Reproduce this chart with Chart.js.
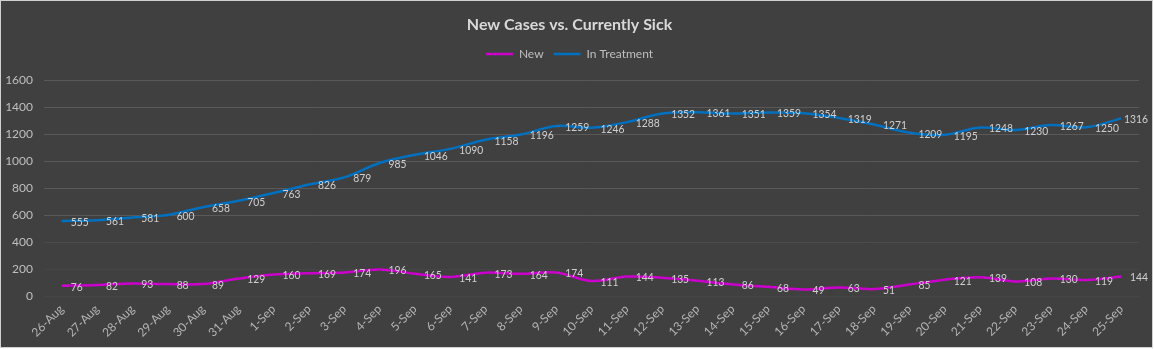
<!DOCTYPE html>
<html>
<head>
<meta charset="utf-8">
<script src="https://cdn.jsdelivr.net/npm/chart.js@4.4.1/dist/chart.umd.min.js"></script>
<style>
  html, body { margin: 0; padding: 0; background: #ffffff; }
  #wrap { position: absolute; left: 0; top: 0; width: 1153px; height: 348px; background: #404040; }
  canvas { display: block; }
</style>
</head>
<body>
<div id="wrap"><canvas id="c" width="1153" height="348"></canvas></div>
<script>
const categories = ["26-Aug","27-Aug","28-Aug","29-Aug","30-Aug","31-Aug","1-Sep","2-Sep","3-Sep","4-Sep","5-Sep","6-Sep","7-Sep","8-Sep","9-Sep","10-Sep","11-Sep","12-Sep","13-Sep","14-Sep","15-Sep","16-Sep","17-Sep","18-Sep","19-Sep","20-Sep","21-Sep","22-Sep","23-Sep","24-Sep","25-Sep"];
const newCases = [76,82,93,88,89,129,160,169,174,196,165,141,173,164,174,111,144,135,113,86,68,49,63,51,85,121,139,108,130,119,144];
const inTreatment = [555,561,581,600,658,705,763,826,879,985,1046,1090,1158,1196,1259,1246,1288,1352,1361,1351,1359,1354,1319,1271,1209,1195,1248,1230,1267,1250,1316];
const yTicks = [0,200,400,600,800,1000,1200,1400,1600];

const FONT = "Lato, 'Open Sans', sans-serif";
const TEXT = '#bfbfbf';

const labelPlugin = {
  id: 'pointLabels',
  afterDatasetsDraw(chart) {
    const ctx = chart.ctx;
    const sx = 0.86;
    chart.data.datasets.forEach((ds, i) => {
      const meta = chart.getDatasetMeta(i);
      meta.data.forEach((pt, j) => {
        const txt = String(ds.data[j]);
        ctx.save();
        ctx.font = '12px ' + FONT;
        const w = ctx.measureText(txt).width * sx;
        let x = pt.x + 9;
        const maxRight = chart.width - 5;
        if (x + w > maxRight) x = maxRight - w;
        ctx.fillStyle = '#d0d0d0';
        ctx.textAlign = 'left';
        ctx.textBaseline = 'middle';
        ctx.translate(x, pt.y + 1);
        ctx.scale(sx, 1);
        ctx.fillText(txt, 0, 0);
        ctx.restore();
      });
    });
  }
};

const bgPlugin = {
  id: 'bg',
  beforeDraw(chart) {
    const ctx = chart.ctx;
    ctx.save();
    ctx.fillStyle = '#404040';
    ctx.fillRect(0, 0, chart.width, chart.height);
    ctx.strokeStyle = '#d0d0d0';
    ctx.lineWidth = 1;
    ctx.strokeRect(0.5, 0.5, chart.width - 1, chart.height - 1);
    ctx.restore();
  }
};

new Chart(document.getElementById('c'), {
  type: 'line',
  data: {
    labels: categories,
    datasets: [
      { label: 'New', data: newCases, borderColor: '#cc00cc', backgroundColor: '#cc00cc', borderWidth: 2.5, pointRadius: 0, tension: 0.35, fill: false },
      { label: 'In Treatment', data: inTreatment, borderColor: '#0070c0', backgroundColor: '#0070c0', borderWidth: 2.5, pointRadius: 0, tension: 0.35, fill: false }
    ]
  },
  options: {
    responsive: false,
    animation: false,
    layout: { padding: { left: 0, right: 14, top: 0, bottom: 2 } },
    plugins: {
      title: {
        display: true,
        text: 'New Cases vs. Currently Sick',
        color: '#d9d9d9',
        font: { family: FONT, size: 16, weight: 'bold' },
        padding: { top: 15, bottom: 3.8 }
      },
      subtitle: {
        display: true,
        text: '',
        weight: 500,
        font: { size: 1 },
        padding: { top: 4.4, bottom: 4.4 }
      },
      legend: {
        display: true,
        position: 'top',
        labels: {
          color: TEXT,
          font: { family: FONT, size: 12 },
          usePointStyle: true,
          pointStyle: 'line',
          pointStyleWidth: 27,
          boxHeight: 12,
          padding: 10
        }
      },
      tooltip: { enabled: false }
    },
    scales: {
      x: {
        offset: true,
        grid: { display: false, drawTicks: false },
        border: { display: false },
        ticks: {
          color: '#b4b4b4',
          font: { family: FONT, size: 12 },
          minRotation: 45,
          maxRotation: 45,
          autoSkip: false,
          padding: 6
        },
        afterFit(scale) { scale.height = 50; }
      },
      y: {
        min: 0,
        max: 1600,
        afterBuildTicks(scale) { scale.ticks = yTicks.map(v => ({ value: v })); },
        grid: {
          drawTicks: false,
          color(ctx) {
            const v = ctx.tick && ctx.tick.value;
            if (v === 0 || v === 200) return '#454545';
            if (v === 400) return '#4b4b4b';
            return '#595959';
          },
          lineWidth: 1
        },
        border: { display: false },
        ticks: {
          color: TEXT,
          font: { family: FONT, size: 12 },
          padding: 11,
          callback(value) { return String(value); }
        },
        afterFit(scale) { scale.width = 44; }
      }
    }
  },
  plugins: [bgPlugin, labelPlugin]
});
</script>
</body>
</html>
